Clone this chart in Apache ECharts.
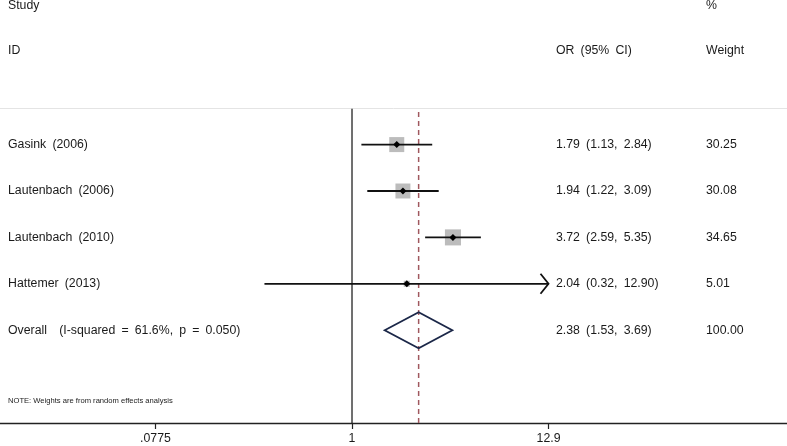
<!DOCTYPE html>
<html>
<head>
<meta charset="utf-8">
<script src="https://cdn.jsdelivr.net/npm/echarts@6/dist/echarts.min.js"></script>
<style>
  html, body { margin: 0; padding: 0; background: #fff; }
  #chart { width: 787px; height: 446px; }
</style>
</head>
<body>
<div id="chart"></div>
<script>
// 森林图 forest plot
var studies = ["Gasink (2006)", "Lautenbach (2006)", "Lautenbach (2010)", "Hattemer (2013)"];
var orValues = [1.79, 1.94, 3.72, 2.04];
var ciLow = [1.13, 1.22, 2.59, 0.32];
var ciHigh = [2.84, 3.09, 5.35, 12.90];
var weights = [30.25, 30.08, 34.65, 5.01];
var orText = ["1.79 (1.13, 2.84)", "1.94 (1.22, 3.09)", "3.72 (2.59, 5.35)", "2.04 (0.32, 12.90)"];
var weightText = ["30.25", "30.08", "34.65", "5.01"];

var overallLabel = "Overall  (I-squared = 61.6%, p = 0.050)";
var overallOR = 2.38;
var overallLow = 1.53;
var overallHigh = 3.69;
var overallText = "2.38 (1.53, 3.69)";
var overallWeight = "100.00";

var tickValues = [0.0775, 1, 12.9];
var tickLabels = [".0775", "1", "12.9"];

var FONT = '12.3px "Liberation Sans", Arial, sans-serif';
var TXT = "#1a1a1a";
var clipMax = Math.log(12.9);

// Stata 的空格比较宽
function wide(s) {
  return s.replace(/ /g, "\u2002");
}

var chart = echarts.init(document.getElementById("chart"));

var rows = studies.map(function (s, i) {
  return [Math.log(ciLow[i]), Math.log(ciHigh[i]), Math.log(orValues[i]), i + 1, weights[i]];
});

function txt(text, x, y) {
  return {
    type: "text",
    style: { text: wide(text), x: x, y: y, font: FONT, fill: TXT, verticalAlign: "middle" }
  };
}

function renderStudy(params, api) {
  var i = params.dataIndex;
  var row = api.value(3);
  var lo = api.coord([api.value(0), row]);
  var hiVal = Math.min(api.value(1), clipMax);
  var hi = api.coord([hiVal, row]);
  var mid = api.coord([api.value(2), row]);
  var side = 2.73 * Math.sqrt(api.value(4));
  var y = mid[1];
  var children = [
    {
      type: "rect",
      shape: { x: mid[0] - side / 2, y: y - side / 2, width: side, height: side },
      style: { fill: "#bcbcbc" }
    },
    {
      type: "line",
      shape: { x1: lo[0], y1: y, x2: hi[0], y2: y },
      style: { stroke: "#111", lineWidth: 1.8 }
    },
    {
      type: "polygon",
      shape: { points: [[mid[0] - 3.5, y], [mid[0], y - 3.5], [mid[0] + 3.5, y], [mid[0], y + 3.5]] },
      style: { fill: "#000" }
    },
    txt(studies[i], 8, y),
    txt(orText[i], 556, y),
    txt(weightText[i], 706, y)
  ];
  // 超出范围画箭头
  if (api.value(1) >= clipMax - 1e-9) {
    children.push({
      type: "polyline",
      shape: { points: [[hi[0] - 8, y - 10], [hi[0], y], [hi[0] - 8, y + 10]] },
      style: { stroke: "#111", lineWidth: 1.8, fill: null }
    });
  }
  return { type: "group", children: children };
}

function renderOverall(params, api) {
  var row = api.value(3);
  var lo = api.coord([api.value(0), row]);
  var hi = api.coord([api.value(1), row]);
  var mid = api.coord([api.value(2), row]);
  var y = mid[1];
  return {
    type: "group",
    children: [
      {
        type: "polygon",
        shape: { points: [[lo[0], y], [mid[0], y - 18], [hi[0], y], [mid[0], y + 18]] },
        style: { stroke: "#1b2748", lineWidth: 1.8, fill: null }
      },
      txt(overallLabel, 8, y),
      txt(overallText, 556, y),
      txt(overallWeight, 706, y)
    ]
  };
}

var lnTicks = tickValues.map(function (v) { return Math.log(v); });

chart.setOption({
  animation: false,
  backgroundColor: "#fff",
  grid: { left: 0, right: 0, top: 107, bottom: 23 },
  xAxis: {
    type: "value",
    min: -4.581,
    max: 5.661,
    splitLine: { show: false },
    axisLine: { show: true, lineStyle: { color: "#222", width: 1.3 } },
    axisTick: {
      show: true,
      customValues: lnTicks,
      length: 6,
      lineStyle: { color: "#222", width: 1.2 }
    },
    axisLabel: {
      show: true,
      customValues: lnTicks,
      margin: 10,
      color: TXT,
      fontSize: 12.3,
      fontFamily: '"Liberation Sans", Arial, sans-serif',
      formatter: function (v) {
        for (var k = 0; k < lnTicks.length; k++) {
          if (Math.abs(lnTicks[k] - v) < 1e-6) return tickLabels[k];
        }
        return "";
      }
    }
  },
  yAxis: {
    type: "value",
    inverse: true,
    min: 0.19,
    max: 7.0,
    show: false
  },
  graphic: [
    { type: "line", shape: { x1: 0, y1: 108.5, x2: 787, y2: 108.5 }, style: { stroke: "#e4e4e4", lineWidth: 1 } },
    txt("Study", 8, 6),
    txt("ID", 8, 51),
    txt("OR (95% CI)", 556, 51),
    txt("%", 706, 6),
    txt("Weight", 706, 51),
    {
      type: "text",
      style: {
        text: "NOTE: Weights are from random effects analysis",
        x: 8, y: 401,
        font: '7.6px "Liberation Sans", Arial, sans-serif',
        fill: TXT, verticalAlign: "middle"
      }
    }
  ],
  series: [
    {
      name: "null",
      type: "line",
      symbol: "none",
      silent: true,
      lineStyle: { color: "#111", width: 1.2 },
      data: [[0, 0.23], [0, 7.0]],
      z: 1
    },
    {
      name: "overall",
      type: "line",
      symbol: "none",
      silent: true,
      lineStyle: { color: "#a0585e", width: 1.5, type: [5, 4] },
      data: [[Math.log(overallOR), 0.3], [Math.log(overallOR), 7.0]],
      z: 1
    },
    {
      name: "studies",
      type: "custom",
      renderItem: renderStudy,
      data: rows,
      z: 2
    },
    {
      name: "pooled",
      type: "custom",
      renderItem: renderOverall,
      data: [[Math.log(overallLow), Math.log(overallHigh), Math.log(overallOR), 5]],
      z: 3
    }
  ]
});
</script>
</body>
</html>
